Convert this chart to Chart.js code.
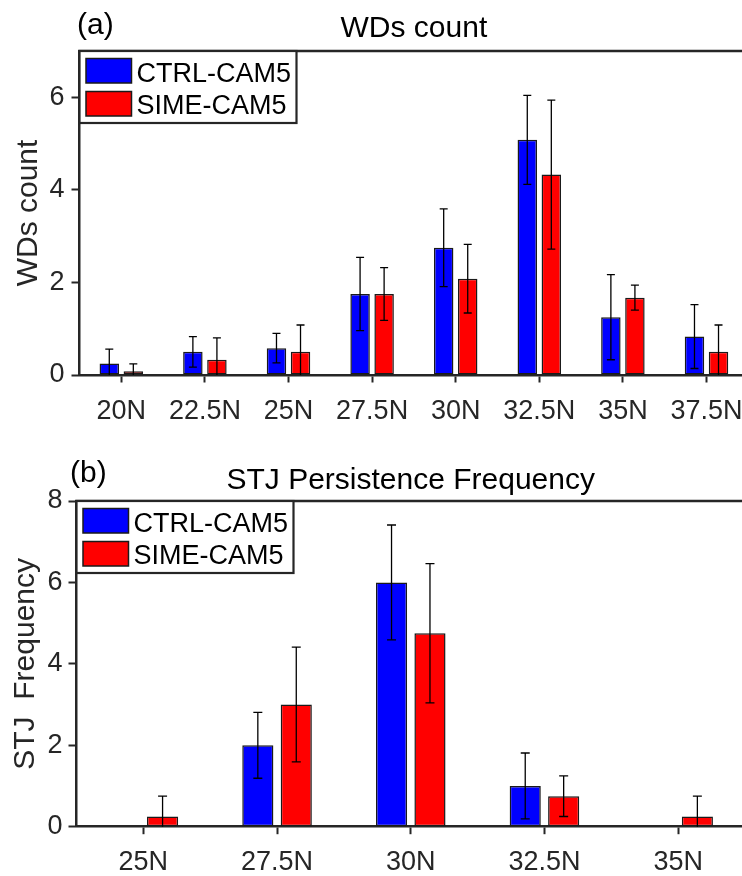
<!DOCTYPE html>
<html>
<head>
<meta charset="utf-8">
<script src="https://cdn.jsdelivr.net/npm/chart.js@4.4.1/dist/chart.umd.min.js"></script>
<style>
  html, body { margin: 0; padding: 0; background: #fff; }
  #wrap { position: relative; width: 742px; height: 876px; overflow: hidden; }
  canvas { position: absolute; left: 0; }
</style>
</head>
<body>
<div id="wrap">
  <canvas id="wdChart" width="760" height="430" style="top:0"></canvas>
  <canvas id="stjChart" width="760" height="446" style="top:430px"></canvas>
</div>
<script>
// ---- data ----
const seriesNames = ["CTRL-CAM5", "SIME-CAM5"];

const wdLabels = ["20N", "22.5N", "25N", "27.5N", "30N", "32.5N", "35N", "37.5N"];
const wdCtrl = [0.25, 0.5, 0.58, 1.75, 2.75, 5.08, 1.25, 0.83];
const wdSime = [0.08, 0.33, 0.5, 1.75, 2.08, 4.33, 1.67, 0.5];
const wdCtrlErr = [0.31, 0.33, 0.32, 0.79, 0.84, 0.96, 0.92, 0.69];
const wdSimeErr = [0.16, 0.47, 0.58, 0.57, 0.74, 1.61, 0.27, 0.58];

const stjLabels = ["25N", "27.5N", "30N", "32.5N", "35N"];
const stjCtrl = [0, 2, 6, 1, 0];
const stjSime = [0.25, 3, 4.75, 0.75, 0.25];
const stjCtrlErr = [0, 0.81, 1.41, 0.81, 0];
const stjSimeErr = [0.5, 1.41, 1.71, 0.5, 0.5];

const AXIS = "#262626";
Chart.defaults.font.family = "'Liberation Sans', Arial, Helvetica, sans-serif";
Chart.defaults.color = AXIS;
Chart.defaults.animation = false;

// symmetric error bars, clipped to the axes box like matlab does
const errorBars = {
  id: "errorBars",
  afterDatasetsDraw(chart, args, opts) {
    const { ctx, chartArea: a } = chart;
    const y = chart.scales.y;
    const cap = opts.cap || 4;
    ctx.save();
    ctx.beginPath();
    ctx.rect(a.left, a.top, a.right - a.left, a.bottom - a.top);
    ctx.clip();
    ctx.strokeStyle = "#000";
    ctx.lineWidth = 1.3;
    chart.data.datasets.forEach((ds, di) => {
      chart.getDatasetMeta(di).data.forEach((bar, i) => {
        const e = ds.errors[i];
        if (!e) return;
        const v = ds.data[i];
        const yt = y.getPixelForValue(v + e);
        const yb = y.getPixelForValue(v - e);
        ctx.beginPath();
        ctx.moveTo(bar.x, yt);
        ctx.lineTo(bar.x, yb);
        ctx.moveTo(bar.x - cap, yt);
        ctx.lineTo(bar.x + cap, yt);
        ctx.moveTo(bar.x - cap, yb);
        ctx.lineTo(bar.x + cap, yb);
        ctx.stroke();
      });
    });
    ctx.restore();
  },
};

// top edge of the box, panel tag and the boxed legend
const frame = {
  id: "frame",
  afterDraw(chart, args, opts) {
    const { ctx, chartArea: a } = chart;
    ctx.save();
    ctx.strokeStyle = AXIS;
    ctx.lineWidth = 2.5;
    ctx.beginPath();
    ctx.moveTo(a.left - 1.25, a.top);
    ctx.lineTo(a.right, a.top);
    ctx.lineTo(a.right, a.bottom);
    ctx.stroke();

    ctx.fillStyle = "#000";
    ctx.font = "30px 'Liberation Sans', Arial, sans-serif";
    ctx.textBaseline = "alphabetic";
    ctx.textAlign = "left";
    ctx.fillText(opts.tag, opts.tagX, opts.tagY);

    // legend
    const lx = a.left, ly = a.top, lw = 217, lh = 72;
    ctx.fillStyle = "#fff";
    ctx.fillRect(lx, ly, lw, lh);
    ctx.font = "27px 'Liberation Sans', Arial, sans-serif";
    chart.data.datasets.forEach((ds, i) => {
      const sy = ly + 7.5 + i * 33;
      ctx.fillStyle = ds.backgroundColor;
      ctx.fillRect(lx + 6.5, sy, 45.5, 24.5);
      ctx.strokeStyle = "#1a1a1a";
      ctx.lineWidth = 1.5;
      ctx.strokeRect(lx + 6.5, sy, 45.5, 24.5);
      ctx.fillStyle = "#000";
      ctx.fillText(ds.label, lx + 57, ly + 30.5 + i * 32.2);
    });
    ctx.strokeStyle = AXIS;
    ctx.lineWidth = 2.2;
    ctx.strokeRect(lx, ly, lw, lh);
    ctx.restore();
  },
};

function makeChart(id, cfg) {
  const barStyle = {
    borderColor: "#1a1a1a",
    borderWidth: 1.5,
    borderSkipped: false,
    categoryPercentage: 0.575,
    barPercentage: 0.81,
  };
  return new Chart(document.getElementById(id), {
    type: "bar",
    data: {
      labels: cfg.labels,
      datasets: [
        { label: seriesNames[0], data: cfg.ctrl, errors: cfg.ctrlErr, backgroundColor: "#0000ff", ...barStyle },
        { label: seriesNames[1], data: cfg.sime, errors: cfg.simeErr, backgroundColor: "#ff0000", ...barStyle },
      ],
    },
    options: {
      responsive: false,
      layout: { padding: { left: 0, right: cfg.padRight, top: 0, bottom: 0 } },
      plugins: {
        legend: { display: false },
        tooltip: { enabled: false },
        title: {
          display: true,
          text: cfg.title,
          color: "#000",
          fullSize: false,
          font: { size: 30, weight: "normal" },
          padding: cfg.titlePad,
        },
        errorBars: { cap: cfg.cap },
        frame: { tag: cfg.tag, tagX: cfg.tagX, tagY: cfg.tagY },
      },
      scales: {
        x: {
          offset: true,
          grid: {
            display: true,
            drawOnChartArea: false,
            offset: false,
            tickLength: 7.5,
            tickWidth: 2,
            tickColor: AXIS,
          },
          border: { display: true, color: AXIS, width: 2.5 },
          ticks: { font: { size: 27 }, padding: 12.5, color: AXIS, maxRotation: 0, autoSkip: false },
          afterFit: (s) => { s.height = cfg.xHeight; },
        },
        y: {
          min: 0,
          max: cfg.yMax,
          grid: {
            display: true,
            drawOnChartArea: false,
            tickLength: 8,
            tickWidth: 2,
            tickColor: AXIS,
          },
          border: { display: true, color: AXIS, width: 2.5 },
          ticks: { stepSize: 2, includeBounds: false, font: { size: 27 }, padding: cfg.yPad, color: AXIS },
          title: {
            display: true,
            text: cfg.yTitle,
            color: AXIS,
            font: { size: 30 },
            padding: { top: cfg.yTitlePad, bottom: 0 },
          },
          afterFit: (s) => { s.width = cfg.yWidth; },
        },
      },
    },
    plugins: [errorBars, frame],
  });
}

makeChart("wdChart", {
  labels: wdLabels, ctrl: wdCtrl, sime: wdSime, ctrlErr: wdCtrlErr, simeErr: wdSimeErr,
  title: "WDs count", titlePad: { top: 11, bottom: 4 },
  yTitle: "WDs count", yTitlePad: 11, yMax: 7, yPad: 7,
  yWidth: 79.5, xHeight: 55, padRight: 11.7, cap: 4,
  tag: "(a)", tagX: 77, tagY: 34,
});

makeChart("stjChart", {
  labels: stjLabels, ctrl: stjCtrl, sime: stjSime, ctrlErr: stjCtrlErr, simeErr: stjSimeErr,
  title: "STJ Persistence Frequency", titlePad: { top: 33.2, bottom: 1.8 },
  yTitle: "STJ  Frequency", yTitlePad: 8, yMax: 8, yPad: 6,
  yWidth: 76.5, xHeight: 49.3, padRight: 15, cap: 4.5,
  tag: "(b)", tagX: 70, tagY: 52,
});
</script>
</body>
</html>
